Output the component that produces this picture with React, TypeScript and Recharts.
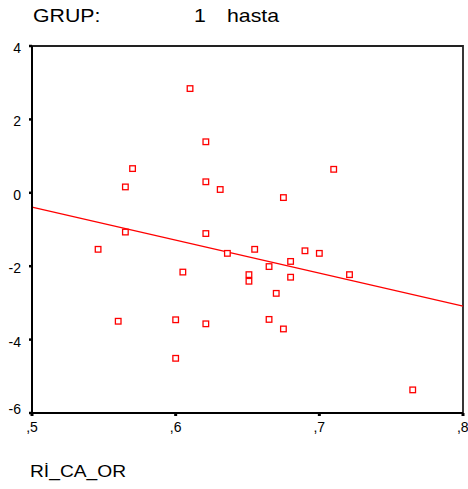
import React from "react";
import {
  ScatterChart,
  Scatter,
  XAxis,
  YAxis,
  ReferenceLine,
  ReferenceArea,
} from "recharts";

// RİCA_OR values (x) and residual-like scores (y)
const ricaOr = [
  0.61, 0.621, 0.57, 0.565, 0.621, 0.631, 0.565, 0.621, 0.546, 0.605,
  0.636, 0.56, 0.6, 0.621, 0.6, 0.655, 0.69, 0.7, 0.68, 0.665,
  0.651, 0.651, 0.68, 0.721, 0.67, 0.665, 0.675, 0.765, 0.71, 0.675,
];
const scores = [
  2.84, 1.39, 0.66, 0.16, 0.3, 0.09, -1.07, -1.11, -1.54, -2.16,
  -1.65, -3.5, -3.46, -3.57, -4.51, -1.54, -1.58, -1.65, -1.87, -2.01,
  -2.23, -2.41, -2.3, -2.23, -2.74, -3.45, -3.71, -5.37, 0.64, -0.13,
];

// fitted line end points
const fitX = [0.5, 0.8];
const fitY = [-0.39, -3.09];

const xTicks = [0.5, 0.6, 0.7, 0.8];
const yTicks = [-6, -4, -2, 0, 2, 4];

const FONT = "'Liberation Sans', Arial, sans-serif";
const RED = "#ff0000";

const points = ricaOr.map((x, i) => ({ x, y: scores[i] }));

const fmtX = (v: number) => "," + Math.round(v * 10);

function SquareMark(props: any) {
  const { cx, cy } = props;
  if (cx == null || cy == null) return null;
  return (
    <rect
      x={cx - 2.8}
      y={cy - 2.8}
      width={5.6}
      height={5.6}
      fill="#fff"
      stroke={RED}
      strokeWidth={1.3}
    />
  );
}

function YTick(props: any) {
  const { x, y, payload } = props;
  const shift = payload.value === -6 ? -6 : 0;
  return (
    <text
      x={x}
      y={y + shift}
      dy="0.5em"
      textAnchor="end"
      fontSize={14}
      fontFamily={FONT}
      fill="#000"
    >
      {String(payload.value)}
    </text>
  );
}

const textBox = (left: number, top: number, size: number, sx: number) =>
  ({
    position: "absolute",
    left,
    top,
    fontSize: size,
    lineHeight: 1,
    whiteSpace: "nowrap",
    transform: `scaleX(${sx})`,
    transformOrigin: "left top",
  }) as React.CSSProperties;

export default function App() {
  return (
    <div
      style={{
        position: "absolute",
        left: 0,
        top: 0,
        width: 468,
        height: 489,
        background: "#fff",
        fontFamily: FONT,
        color: "#000",
      }}
    >
      <div style={textBox(33, 6, 19, 1.12)}>GRUP:</div>
      <div style={textBox(194, 6, 19, 1.12)}>1</div>
      <div style={textBox(227, 6, 19, 1.12)}>hasta</div>
      <ScatterChart
        width={468}
        height={489}
        margin={{ top: 46, right: 5, bottom: 46, left: 0 }}
      >
        <XAxis
          type="number"
          dataKey="x"
          domain={[0.5, 0.8]}
          ticks={xTicks}
          tickFormatter={fmtX}
          height={30}
          axisLine={{ stroke: "#000", strokeWidth: 2 }}
          tickLine={{ stroke: "#000", strokeWidth: 3 }}
          tickSize={3}
          tickMargin={6}
          tick={{ fontSize: 14, fontFamily: FONT, fill: "#000" }}
          allowDataOverflow
        />
        <YAxis
          type="number"
          dataKey="y"
          domain={[-6, 4]}
          ticks={yTicks}
          width={32}
          axisLine={{ stroke: "#000", strokeWidth: 2 }}
          tickLine={{ stroke: "#000", strokeWidth: 2.5 }}
          tickSize={3}
          tickMargin={8}
          tick={<YTick />}
          allowDataOverflow
        />
        <ReferenceArea
          x1={0.5}
          x2={0.8}
          y1={-6}
          y2={4}
          fill="none"
          stroke="#222"
          strokeWidth={1.8}
          fillOpacity={0}
        />
        <ReferenceLine
          segment={[
            { x: fitX[0], y: fitY[0] },
            { x: fitX[1], y: fitY[1] },
          ]}
          stroke={RED}
          strokeWidth={1.2}
        />
        <Scatter data={points} shape={<SquareMark />} isAnimationActive={false} />
      </ScatterChart>
      <div style={textBox(30, 464, 16, 1.2)}>Rİ_CA_OR</div>
    </div>
  );
}
